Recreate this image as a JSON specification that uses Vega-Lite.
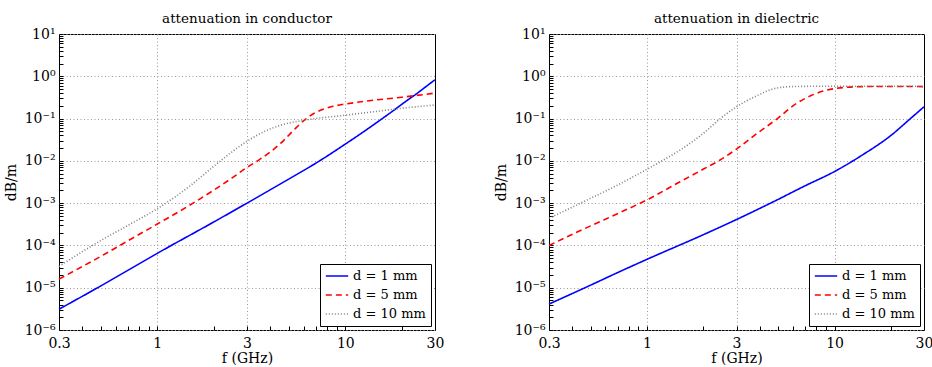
{
  "$schema": "https://vega.github.io/schema/vega-lite/v6.json",
  "padding": {"left": 3, "top": 11, "right": 5, "bottom": 5},
  "config": {
    "font": "DejaVu Serif",
    "view": {"stroke": "black", "strokeWidth": 1},
    "title": {"fontSize": 13.5, "fontWeight": "normal", "font": "DejaVu Serif", "color": "black", "offset": 2},
    "axis": {
      "labelFont": "DejaVu Serif", "labelFontSize": 14, "labelColor": "black",
      "titleFont": "DejaVu Serif", "titleFontSize": 14, "titleFontWeight": "normal", "titleColor": "black",
      "domain": false, "grid": true, "gridColor": "#999999", "gridDash": [1, 2.5], "gridWidth": 1,
      "tickColor": "black", "tickSize": -4, "tickWidth": 1, "labelOverlap": false, "labelFlush": false
    },
    "legend": {
      "orient": "bottom-right", "offset": 4, "strokeColor": "black", "fillColor": "white",
      "padding": 5, "symbolType": "stroke", "symbolSize": 500, "symbolStrokeWidth": 1.5,
      "labelFont": "DejaVu Serif", "labelFontSize": 13, "labelColor": "black", "rowPadding": 5, "clipHeight": 14, "cornerRadius": 0
    }
  },
  "data": {"values": [
    {"panel": "c", "d": "d = 1 mm", "f": 0.3, "a": 3.1e-6},
    {"panel": "c", "d": "d = 1 mm", "f": 0.5, "a": 1.1e-5},
    {"panel": "c", "d": "d = 1 mm", "f": 0.7, "a": 2.6e-5},
    {"panel": "c", "d": "d = 1 mm", "f": 1, "a": 6.5e-5},
    {"panel": "c", "d": "d = 1 mm", "f": 2, "a": 3.6e-4},
    {"panel": "c", "d": "d = 1 mm", "f": 3, "a": 1.0e-3},
    {"panel": "c", "d": "d = 1 mm", "f": 5, "a": 3.7e-3},
    {"panel": "c", "d": "d = 1 mm", "f": 7.3, "a": 0.01},
    {"panel": "c", "d": "d = 1 mm", "f": 10, "a": 0.0249},
    {"panel": "c", "d": "d = 1 mm", "f": 12, "a": 0.043},
    {"panel": "c", "d": "d = 1 mm", "f": 15, "a": 0.086},
    {"panel": "c", "d": "d = 1 mm", "f": 18, "a": 0.154},
    {"panel": "c", "d": "d = 1 mm", "f": 21, "a": 0.256},
    {"panel": "c", "d": "d = 1 mm", "f": 24, "a": 0.39},
    {"panel": "c", "d": "d = 1 mm", "f": 27, "a": 0.58},
    {"panel": "c", "d": "d = 1 mm", "f": 30, "a": 0.83},

    {"panel": "c", "d": "d = 5 mm", "f": 0.3, "a": 1.6e-5},
    {"panel": "c", "d": "d = 5 mm", "f": 0.5, "a": 5.5e-5},
    {"panel": "c", "d": "d = 5 mm", "f": 0.7, "a": 1.3e-4},
    {"panel": "c", "d": "d = 5 mm", "f": 1, "a": 3.2e-4},
    {"panel": "c", "d": "d = 5 mm", "f": 1.55, "a": 1.0e-3},
    {"panel": "c", "d": "d = 5 mm", "f": 2.51, "a": 4.0e-3},
    {"panel": "c", "d": "d = 5 mm", "f": 3, "a": 7.0e-3},
    {"panel": "c", "d": "d = 5 mm", "f": 3.49, "a": 0.0107},
    {"panel": "c", "d": "d = 5 mm", "f": 4.04, "a": 0.0169},
    {"panel": "c", "d": "d = 5 mm", "f": 4.65, "a": 0.029},
    {"panel": "c", "d": "d = 5 mm", "f": 5.5, "a": 0.062},
    {"panel": "c", "d": "d = 5 mm", "f": 6.2, "a": 0.1},
    {"panel": "c", "d": "d = 5 mm", "f": 6.87, "a": 0.135},
    {"panel": "c", "d": "d = 5 mm", "f": 8.62, "a": 0.195},
    {"panel": "c", "d": "d = 5 mm", "f": 10, "a": 0.22},
    {"panel": "c", "d": "d = 5 mm", "f": 13, "a": 0.26},
    {"panel": "c", "d": "d = 5 mm", "f": 20, "a": 0.32},
    {"panel": "c", "d": "d = 5 mm", "f": 30, "a": 0.40},

    {"panel": "c", "d": "d = 10 mm", "f": 0.3, "a": 3.2e-5},
    {"panel": "c", "d": "d = 10 mm", "f": 0.5, "a": 1.3e-4},
    {"panel": "c", "d": "d = 10 mm", "f": 0.7, "a": 3.0e-4},
    {"panel": "c", "d": "d = 10 mm", "f": 1, "a": 7.4e-4},
    {"panel": "c", "d": "d = 10 mm", "f": 1.5, "a": 2.6e-3},
    {"panel": "c", "d": "d = 10 mm", "f": 2, "a": 7.5e-3},
    {"panel": "c", "d": "d = 10 mm", "f": 3, "a": 0.029},
    {"panel": "c", "d": "d = 10 mm", "f": 3.8, "a": 0.052},
    {"panel": "c", "d": "d = 10 mm", "f": 4.65, "a": 0.072},
    {"panel": "c", "d": "d = 10 mm", "f": 6.2, "a": 0.093},
    {"panel": "c", "d": "d = 10 mm", "f": 10, "a": 0.12},
    {"panel": "c", "d": "d = 10 mm", "f": 15, "a": 0.15},
    {"panel": "c", "d": "d = 10 mm", "f": 20, "a": 0.175},
    {"panel": "c", "d": "d = 10 mm", "f": 30, "a": 0.21},

    {"panel": "e", "d": "d = 1 mm", "f": 0.3, "a": 4.1e-6},
    {"panel": "e", "d": "d = 1 mm", "f": 0.5, "a": 1.15e-5},
    {"panel": "e", "d": "d = 1 mm", "f": 0.7, "a": 2.3e-5},
    {"panel": "e", "d": "d = 1 mm", "f": 1, "a": 4.7e-5},
    {"panel": "e", "d": "d = 1 mm", "f": 2, "a": 1.8e-4},
    {"panel": "e", "d": "d = 1 mm", "f": 3, "a": 4.1e-4},
    {"panel": "e", "d": "d = 1 mm", "f": 4.76, "a": 1.1e-3},
    {"panel": "e", "d": "d = 1 mm", "f": 7, "a": 2.6e-3},
    {"panel": "e", "d": "d = 1 mm", "f": 10, "a": 5.6e-3},
    {"panel": "e", "d": "d = 1 mm", "f": 13.9, "a": 0.0133},
    {"panel": "e", "d": "d = 1 mm", "f": 20, "a": 0.04},
    {"panel": "e", "d": "d = 1 mm", "f": 25.4, "a": 0.1},
    {"panel": "e", "d": "d = 1 mm", "f": 30, "a": 0.19},

    {"panel": "e", "d": "d = 5 mm", "f": 0.3, "a": 1.0e-4},
    {"panel": "e", "d": "d = 5 mm", "f": 0.5, "a": 2.9e-4},
    {"panel": "e", "d": "d = 5 mm", "f": 0.7, "a": 5.7e-4},
    {"panel": "e", "d": "d = 5 mm", "f": 1, "a": 1.2e-3},
    {"panel": "e", "d": "d = 5 mm", "f": 1.5, "a": 3.2e-3},
    {"panel": "e", "d": "d = 5 mm", "f": 2, "a": 6.4e-3},
    {"panel": "e", "d": "d = 5 mm", "f": 2.41, "a": 0.01},
    {"panel": "e", "d": "d = 5 mm", "f": 3, "a": 0.019},
    {"panel": "e", "d": "d = 5 mm", "f": 3.87, "a": 0.045},
    {"panel": "e", "d": "d = 5 mm", "f": 4.96, "a": 0.1},
    {"panel": "e", "d": "d = 5 mm", "f": 6.1, "a": 0.21},
    {"panel": "e", "d": "d = 5 mm", "f": 7.5, "a": 0.35},
    {"panel": "e", "d": "d = 5 mm", "f": 10, "a": 0.51},
    {"panel": "e", "d": "d = 5 mm", "f": 14, "a": 0.57},
    {"panel": "e", "d": "d = 5 mm", "f": 20, "a": 0.575},
    {"panel": "e", "d": "d = 5 mm", "f": 30, "a": 0.57},

    {"panel": "e", "d": "d = 10 mm", "f": 0.3, "a": 4.4e-4},
    {"panel": "e", "d": "d = 10 mm", "f": 0.5, "a": 1.3e-3},
    {"panel": "e", "d": "d = 10 mm", "f": 0.7, "a": 2.7e-3},
    {"panel": "e", "d": "d = 10 mm", "f": 0.915, "a": 5.1e-3},
    {"panel": "e", "d": "d = 10 mm", "f": 1.2, "a": 0.01},
    {"panel": "e", "d": "d = 10 mm", "f": 1.5, "a": 0.018},
    {"panel": "e", "d": "d = 10 mm", "f": 2, "a": 0.045},
    {"panel": "e", "d": "d = 10 mm", "f": 2.46, "a": 0.1},
    {"panel": "e", "d": "d = 10 mm", "f": 3, "a": 0.19},
    {"panel": "e", "d": "d = 10 mm", "f": 3.87, "a": 0.35},
    {"panel": "e", "d": "d = 10 mm", "f": 4.76, "a": 0.51},
    {"panel": "e", "d": "d = 10 mm", "f": 5.86, "a": 0.57},
    {"panel": "e", "d": "d = 10 mm", "f": 8, "a": 0.58},
    {"panel": "e", "d": "d = 10 mm", "f": 30, "a": 0.58}
  ]},
  "hconcat": [
    {
      "title": "attenuation in conductor",
      "width": 376, "height": 296,
      "transform": [{"filter": "datum.panel == 'c'"}],
      "mark": {"type": "line", "interpolate": "monotone"},
      "encoding": {
        "x": {"field": "f", "type": "quantitative",
          "scale": {"type": "log", "domain": [0.3, 30], "nice": false},
          "axis": {"title": "f (GHz)", "titlePadding": 1, "labelPadding": 10,
            "values": [0.3, 0.4, 0.5, 0.6, 0.7, 0.8, 0.9, 1, 2, 3, 4, 5, 6, 7, 8, 9, 10, 20, 30],
            "labelExpr": "indexof([0.3, 1, 3, 10, 30], datum.value) >= 0 ? '' + datum.value : ''",
            "gridOpacity": {"condition": {"test": "indexof([1, 3, 10], datum.value) >= 0", "value": 1}, "value": 0}}},
        "y": {"field": "a", "type": "quantitative",
          "scale": {"type": "log", "domain": [1e-6, 10], "nice": false},
          "axis": {"title": "dB/m", "titlePadding": 6, "labelPadding": 8,
            "values": [1e-6,2e-6,3e-6,4e-6,5e-6,6e-6,7e-6,8e-6,9e-6,1e-5,2e-5,3e-5,4e-5,5e-5,6e-5,7e-5,8e-5,9e-5,1e-4,2e-4,3e-4,4e-4,5e-4,6e-4,7e-4,8e-4,9e-4,1e-3,2e-3,3e-3,4e-3,5e-3,6e-3,7e-3,8e-3,9e-3,0.01,0.02,0.03,0.04,0.05,0.06,0.07,0.08,0.09,0.1,0.2,0.3,0.4,0.5,0.6,0.7,0.8,0.9,1,2,3,4,5,6,7,8,9,10],
            "labelExpr": "abs(log(datum.value)/LN10 - round(log(datum.value)/LN10)) < 1e-6 ? ['10⁻⁶','10⁻⁵','10⁻⁴','10⁻³','10⁻²','10⁻¹','10⁰','10¹'][round(log(datum.value)/LN10) + 6] : ''",
            "gridOpacity": {"condition": {"test": "abs(log(datum.value)/LN10 - round(log(datum.value)/LN10)) < 1e-6", "value": 1}, "value": 0}}},
        "color": {"field": "d", "type": "nominal", "title": null,
          "scale": {"domain": ["d = 1 mm", "d = 5 mm", "d = 10 mm"], "range": ["#0000ff", "#ff0000", "#7f7f7f"]}},
        "strokeDash": {"field": "d", "type": "nominal", "title": null,
          "scale": {"domain": ["d = 1 mm", "d = 5 mm", "d = 10 mm"], "range": [[1, 0], [6, 4], [1, 2]]}},
        "strokeWidth": {"field": "d", "type": "nominal", "title": null,
          "scale": {"domain": ["d = 1 mm", "d = 5 mm", "d = 10 mm"], "range": [1.6, 1.6, 1]}}
      }
    },
    {
      "title": "attenuation in dielectric",
      "width": 375, "height": 296,
      "transform": [{"filter": "datum.panel == 'e'"}],
      "mark": {"type": "line", "interpolate": "monotone"},
      "encoding": {
        "x": {"field": "f", "type": "quantitative",
          "scale": {"type": "log", "domain": [0.3, 30], "nice": false},
          "axis": {"title": "f (GHz)", "titlePadding": 1, "labelPadding": 10,
            "values": [0.3, 0.4, 0.5, 0.6, 0.7, 0.8, 0.9, 1, 2, 3, 4, 5, 6, 7, 8, 9, 10, 20, 30],
            "labelExpr": "indexof([0.3, 1, 3, 10, 30], datum.value) >= 0 ? '' + datum.value : ''",
            "gridOpacity": {"condition": {"test": "indexof([1, 3, 10], datum.value) >= 0", "value": 1}, "value": 0}}},
        "y": {"field": "a", "type": "quantitative",
          "scale": {"type": "log", "domain": [1e-6, 10], "nice": false},
          "axis": {"title": "dB/m", "titlePadding": 6, "labelPadding": 8,
            "values": [1e-6,2e-6,3e-6,4e-6,5e-6,6e-6,7e-6,8e-6,9e-6,1e-5,2e-5,3e-5,4e-5,5e-5,6e-5,7e-5,8e-5,9e-5,1e-4,2e-4,3e-4,4e-4,5e-4,6e-4,7e-4,8e-4,9e-4,1e-3,2e-3,3e-3,4e-3,5e-3,6e-3,7e-3,8e-3,9e-3,0.01,0.02,0.03,0.04,0.05,0.06,0.07,0.08,0.09,0.1,0.2,0.3,0.4,0.5,0.6,0.7,0.8,0.9,1,2,3,4,5,6,7,8,9,10],
            "labelExpr": "abs(log(datum.value)/LN10 - round(log(datum.value)/LN10)) < 1e-6 ? ['10⁻⁶','10⁻⁵','10⁻⁴','10⁻³','10⁻²','10⁻¹','10⁰','10¹'][round(log(datum.value)/LN10) + 6] : ''",
            "gridOpacity": {"condition": {"test": "abs(log(datum.value)/LN10 - round(log(datum.value)/LN10)) < 1e-6", "value": 1}, "value": 0}}},
        "color": {"field": "d", "type": "nominal", "title": null,
          "scale": {"domain": ["d = 1 mm", "d = 5 mm", "d = 10 mm"], "range": ["#0000ff", "#ff0000", "#7f7f7f"]}},
        "strokeDash": {"field": "d", "type": "nominal", "title": null,
          "scale": {"domain": ["d = 1 mm", "d = 5 mm", "d = 10 mm"], "range": [[1, 0], [6, 4], [1, 2]]}},
        "strokeWidth": {"field": "d", "type": "nominal", "title": null,
          "scale": {"domain": ["d = 1 mm", "d = 5 mm", "d = 10 mm"], "range": [1.6, 1.6, 1]}}
      }
    }
  ],
  "spacing": 48,
  "resolve": {
    "scale": {"color": "independent", "strokeDash": "independent", "strokeWidth": "independent"},
    "legend": {"color": "independent", "strokeDash": "independent", "strokeWidth": "independent"}
  }
}
